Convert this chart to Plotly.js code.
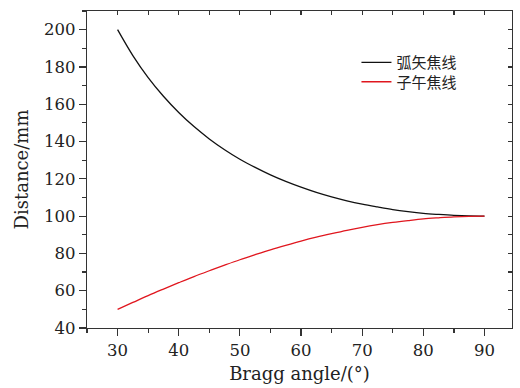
<!DOCTYPE html>
<html>
<head>
<meta charset="utf-8">
<script src="https://cdn.plot.ly/plotly-3.0.1.min.js"></script>
<style>html,body{margin:0;padding:0;background:#fff;}#chart{width:520px;height:388px;}</style>
</head>
<body>
<div id="chart"></div>
<script>
const angles = [30,32.5,35,37.5,40,42.5,45,47.5,50,52.5,55,57.5,60,62.5,65,67.5,70,72.5,75,77.5,80,82.5,85,87.5,90];
const sagittal = [200,186.1,174.3,164.3,155.6,148.0,141.4,135.6,130.5,126.1,122.1,118.6,115.5,112.7,110.3,108.2,106.4,104.9,103.5,102.4,101.5,100.9,100.4,100.1,100];
const meridional = [50,53.7,57.4,60.9,64.3,67.6,70.7,73.7,76.6,79.3,81.9,84.3,86.6,88.7,90.6,92.4,94.0,95.4,96.6,97.6,98.5,99.1,99.6,99.9,100];
const seriesNames = ['弧矢焦线','子午焦线'];
const xTicks = [30,40,50,60,70,80,90];
const yTicks = [40,60,80,100,120,140,160,180,200];

const serif = "'DejaVu Serif', serif";
const cjk = "'Noto Sans CJK SC', sans-serif";
const axColor = '#333';
const txt = '#222';
const traces = [
  {x: angles, y: sagittal, name: seriesNames[0], legend:'legend', mode:'lines', line:{color:'#111', width:1.3, shape:'spline'}},
  {x: angles, y: meridional, name: seriesNames[1], legend:'legend2', mode:'lines', line:{color:'#e0161e', width:1.3, shape:'spline'}},
  {x: [], y: [], xaxis:'x2', yaxis:'y2', showlegend:false, hoverinfo:'skip', mode:'lines'}
];
const xr = [25, 94.5], yr = [40, 210];
const legendBase = {xanchor:'left', yanchor:'top', bgcolor:'rgba(0,0,0,0)', borderwidth:0,
                    font:{family:cjk, size:15, color:txt}, itemwidth:30};
const layout = {
  width:520, height:388,
  margin:{l:87, r:8, t:11, b:60},
  paper_bgcolor:'#fff', plot_bgcolor:'#fff',
  showlegend:true,
  legend: Object.assign({}, legendBase, {x:0.634, y:0.889}),
  legend2: Object.assign({}, legendBase, {x:0.634, y:0.828}),
  xaxis:{range:xr, tickvals:xTicks, ticks:'outside', ticklen:7, tickwidth:1.2, tickcolor:axColor,
         showline:true, linecolor:axColor, linewidth:1.3, mirror:true, showgrid:false, zeroline:false,
         minor:{dtick:5, tick0:25, ticks:'outside', ticklen:4, tickwidth:1.2, tickcolor:axColor, showgrid:false},
         tickfont:{family:serif, size:16.5, color:txt},
         title:{text:'Bragg angle/(°)', font:{family:serif, size:18, color:txt}, standoff:8}},
  yaxis:{range:yr, tickvals:yTicks, ticks:'outside', ticklen:7, tickwidth:1.2, tickcolor:axColor,
         showline:true, linecolor:axColor, linewidth:1.3, mirror:true, showgrid:false, zeroline:false,
         minor:{dtick:10, tick0:0, ticks:'outside', ticklen:4, tickwidth:1.2, tickcolor:axColor, showgrid:false},
         tickfont:{family:serif, size:16.5, color:txt},
         title:{text:'Distance/mm', font:{family:serif, size:18, color:txt}, standoff:10}},
  xaxis2:{overlaying:'x', side:'top', anchor:'y', range:xr, dtick:5, tick0:25, ticks:'inside', ticklen:4, tickwidth:1.2,
          tickcolor:axColor, showticklabels:false, showgrid:false, zeroline:false, showline:false},
  yaxis2:{overlaying:'y', side:'right', anchor:'x', range:yr, dtick:10, tick0:0, ticks:'inside', ticklen:4, tickwidth:1.2,
          tickcolor:axColor, showticklabels:false, showgrid:false, zeroline:false, showline:false}
};
Plotly.newPlot('chart', traces, layout, {displayModeBar:false, staticPlot:true});
</script>
</body>
</html>
